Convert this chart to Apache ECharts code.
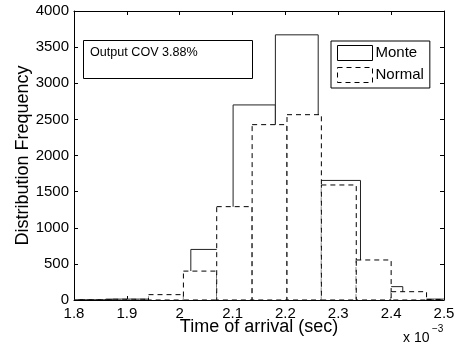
<!DOCTYPE html>
<html>
<head>
<meta charset="utf-8">
<script src="https://cdn.jsdelivr.net/npm/echarts@6/dist/echarts.min.js"></script>
<style>html,body{margin:0;padding:0;background:#fff}#c{width:455px;height:349px}</style>
</head>
<body>
<div id="c"></div>
<script>
// Histogram bins (x in units of 1e-3 s): left edge, right edge
var monteLeft   = [1.780, 1.860, 1.941, 2.021, 2.101, 2.181, 2.262, 2.342, 2.422];
var monteRight  = [1.860, 1.941, 2.021, 2.101, 2.181, 2.262, 2.342, 2.422, 2.503];
var monteCounts = [0, 12, 50, 700, 2700, 3670, 1655, 185, 12];

var normalLeft   = [1.808, 1.874, 1.941, 2.007, 2.070, 2.137, 2.203, 2.268, 2.334, 2.400, 2.467];
var normalRight  = [1.874, 1.941, 2.007, 2.070, 2.137, 2.203, 2.268, 2.334, 2.400, 2.467, 2.533];
var normalCounts = [0, 10, 74, 400, 1292, 2427, 2565, 1592, 554, 115, 8];

var xTicks = [1.8, 1.9, 2.0, 2.1, 2.2, 2.3, 2.4, 2.5];
var yTicks = [0, 500, 1000, 1500, 2000, 2500, 3000, 3500, 4000];

var FONT = 'Liberation Sans, Arial, Helvetica, sans-serif';

function binData(l, r, c) {
  return l.map(function (v, i) { return [v, r[i], c[i]]; });
}
function makeRender(stroke, dash) {
  return function (params, api) {
    var p0 = api.coord([api.value(0), api.value(2)]);
    var p1 = api.coord([api.value(1), 0]);
    return {
      type: 'rect',
      shape: { x: p0[0], y: p0[1], width: p1[0] - p0[0], height: p1[1] - p0[1] },
      style: { fill: '#fff', stroke: stroke, lineWidth: 1, lineDash: dash }
    };
  };
}

var chart = echarts.init(document.getElementById('c'), null, { renderer: 'canvas' });
function axisCommon() {
  return {
    nameMoveOverlap: false,
    axisLine: { show: true, onZero: false, lineStyle: { color: '#000', width: 1 } },
    axisTick: { show: true, inside: true, length: 4, lineStyle: { color: '#000' } },
    splitLine: { show: false }
  };
}
chart.setOption({
  animation: false,
  backgroundColor: '#fff',
  grid: { left: 74, right: 11, top: 11, bottom: 49, containLabel: false, outerBoundsMode: 'none' },
  xAxis: [
    Object.assign({
      type: 'value', min: xTicks[0], max: xTicks[xTicks.length - 1], interval: 0.1,
      position: 'bottom',
      name: 'Time of arrival (sec)', nameLocation: 'middle', nameGap: 18,
      nameTextStyle: { fontFamily: FONT, fontSize: 18, color: '#000', verticalAlign: 'top' },
      axisLabel: { fontFamily: FONT, fontSize: 15, color: '#000', margin: 6,
        formatter: function (v) { return String(Math.round(v * 10) / 10); } }
    }, axisCommon()),
    Object.assign({
      type: 'value', min: xTicks[0], max: xTicks[xTicks.length - 1], interval: 0.1,
      position: 'top', axisLabel: { show: false }
    }, axisCommon())
  ],
  yAxis: [
    Object.assign({
      type: 'value', min: yTicks[0], max: yTicks[yTicks.length - 1], interval: 500,
      position: 'left',
      name: 'Distribution Frequency', nameLocation: 'middle', nameGap: 42,
      nameTextStyle: { fontFamily: FONT, fontSize: 18, color: '#000' },
      axisLabel: { fontFamily: FONT, fontSize: 15, color: '#000', margin: 5,
        formatter: function (v) { return String(v); } }
    }, axisCommon()),
    Object.assign({
      type: 'value', min: yTicks[0], max: yTicks[yTicks.length - 1], interval: 500,
      position: 'right', axisLabel: { show: false }
    }, axisCommon())
  ],
  legend: {
    orient: 'vertical', left: 331, top: 41,
    itemWidth: 35, itemHeight: 15, itemGap: 6,
    padding: [4, 6, 5, 6],
    borderColor: '#000', borderWidth: 1, backgroundColor: '#fff',
    textStyle: { fontFamily: FONT, fontSize: 15, color: '#000', padding: [0, 0, 0, -2] },
    data: [
      { name: 'Monte', icon: 'rect', itemStyle: { color: '#fff', borderColor: '#000', borderWidth: 1 } },
      { name: 'Normal', icon: 'rect', itemStyle: { color: '#fff', borderColor: '#000', borderWidth: 1, borderType: [5, 4] } }
    ]
  },
  graphic: [
    { type: 'rect', left: 83, top: 40, shape: { width: 169, height: 38 },
      style: { fill: '#fff', stroke: '#000', lineWidth: 1 }, z: 10 },
    { type: 'text', left: 90, top: 46, z: 11,
      style: { text: 'Output COV 3.88%', fontFamily: FONT, fontSize: 12.6, fill: '#000' } },
    { type: 'text', left: 403, top: 331, z: 11,
      style: { text: 'x 10', fontFamily: FONT, fontSize: 14, fill: '#000' } },
    { type: 'text', left: 432, top: 324, z: 11,
      style: { text: '\u22123', fontFamily: FONT, fontSize: 10, fill: '#000' } }
  ],
  series: [
    { name: 'Monte', type: 'custom', clip: true, xAxisIndex: 0, yAxisIndex: 0,
      renderItem: makeRender('#222', null), data: binData(monteLeft, monteRight, monteCounts), z: 2 },
    { name: 'Normal', type: 'custom', clip: true, xAxisIndex: 0, yAxisIndex: 0,
      renderItem: makeRender('#000', [5, 4]), data: binData(normalLeft, normalRight, normalCounts), z: 3 }
  ]
});
</script>
</body>
</html>
